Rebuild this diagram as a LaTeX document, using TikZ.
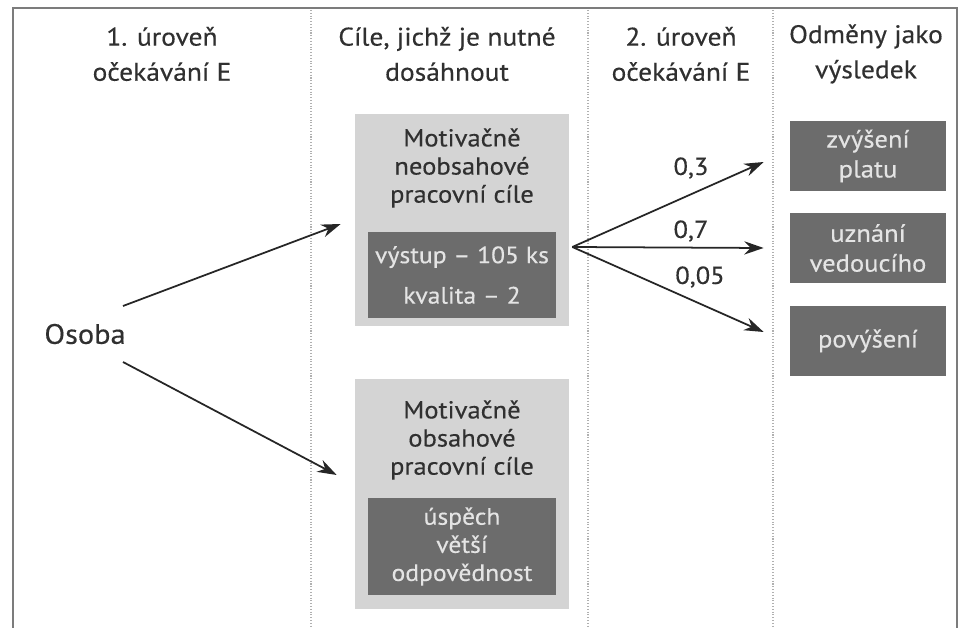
\documentclass[tikz,border=0pt]{standalone}
\usepackage{fontspec}
\setmainfont{PT Sans}[FakeStretch=1.08,FakeBold=0.35]
\usetikzlibrary{arrows.meta,positioning,calc}
\definecolor{txtgray}{HTML}{303030}
\definecolor{lightbox}{HTML}{D4D4D4}
\definecolor{darkbox}{HTML}{6C6C6C}
\definecolor{darktxt}{HTML}{E4E4E4}
\definecolor{framegray}{HTML}{7C7C7C}
\definecolor{dotgray}{HTML}{B0B0B0}
\tikzset{
  hdr/.style={align=center,inner sep=0pt,font=\fontsize{14.5}{20}\selectfont},
  outerbox/.style={fill=lightbox,inner sep=0pt,minimum width=4.28cm},
  innerbox/.style={fill=darkbox,text=darktxt,align=center,inner sep=0pt,minimum width=3.76cm,
    font=\fontsize{13.5}{16}\selectfont},
  rewardbox/.style={fill=darkbox,text=darktxt,align=center,inner sep=0pt,minimum width=3.12cm,
    minimum height=1.42cm,font=\fontsize{14}{17}\selectfont},
  boxtext/.style={align=center,inner sep=0pt,font=\fontsize{14}{16}\selectfont},
  prob/.style={inner sep=0pt,font=\fontsize{14}{16}\selectfont},
  conn/.style={->,line width=1pt,black!85}
}
\begin{document}
\begin{tikzpicture}[x=0.02cm,y=-0.02cm,>={Stealth[length=11pt,width=7.5pt]},
  every node/.style={text=txtgray}]
\useasboundingbox (0,0) rectangle (960,628);
% frame and columns
\draw[framegray,line width=1.1pt] (13,640)--(13,8)--(957,8)--(957,640);
\foreach \xc in {311,588,773}
  \draw[dotgray,line width=.6pt,densely dotted] (\xc,10)--(\xc,628);
% headers
\node[hdr] (h1) at (162,54) {1. úroveň\\očekávání E};
\node[hdr] (h2) at (447,54) {Cíle, jichž je nutné\\dosáhnout};
\node[hdr] (h3) at (681,54) {2. úroveň\\očekávání E};
\node[hdr] (h4) at (866,54) {Odměny jako\\výsledek};
% person
\node[hdr,font=\fontsize{16}{18}\selectfont] (osoba) at (85,334) {Osoba};
% goals
\node[outerbox,minimum height=4.24cm] (cil1) at (462,220) {};
\node[boxtext] (cil1t) at (462,168) {Motivačně\\neobsahové\\pracovní cíle};
\node[innerbox,minimum height=1.72cm] (cil1d) at (462,275) {výstup – 105 ks\\[7pt]kvalita – 2};
\node[outerbox,minimum height=4.6cm] (cil2) at (462,494) {};
\node[boxtext] (cil2t) at (462,440) {Motivačně\\obsahové\\pracovní cíle};
\node[innerbox,minimum height=1.94cm] (cil2d) at (462,546.5) {úspěch\\větší\\odpovědnost};
% rewards
\node[rewardbox] (odm1) at (868,156) {zvýšení\\platu};
\node[rewardbox] (odm2) at (868,248) {uznání\\vedoucího};
\node[rewardbox] (odm3) at (868,341) {povýšení};
% arrows
\draw[conn] ($(osoba)+(38,-28)$) -- ($(cil1.west)+(-14,4)$);
\draw[conn] ($(osoba)+(38,28)$) -- ($(cil2.west)+(-18,-19)$);
\coordinate (fork) at ($(cil1.east)+(3,27)$);
\draw[conn] (fork) -- ($(odm1.west)+(-26,6)$);
\draw[conn] (fork) -- ($(odm2.west)+(-26,0)$);
\draw[conn] (fork) -- ($(odm3.west)+(-26,-9)$);
\node[prob] (p1) at (691,168) {0,3};
\node[prob] (p2) at (691,231) {0,7};
\node[prob] (p3) at (700,277) {0,05};
\end{tikzpicture}
\end{document}
